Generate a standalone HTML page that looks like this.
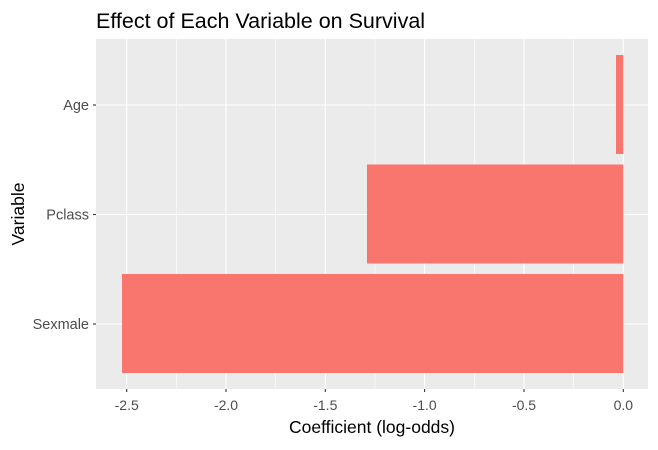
<!DOCTYPE html>
<html><head><style>body{margin:0;background:#fff}</style></head><body>
<svg width="658" height="445" xmlns="http://www.w3.org/2000/svg" font-family="Liberation Sans, sans-serif">
<rect width="658" height="445" fill="#fff"/>
<rect x="96" y="39" width="552" height="350" fill="#ebebeb"/>
<g stroke="#fff" stroke-width="0.55">
<line x1="176.35" y1="39" x2="176.35" y2="389"/><line x1="275.65" y1="39" x2="275.65" y2="389"/><line x1="374.95" y1="39" x2="374.95" y2="389"/><line x1="474.3" y1="39" x2="474.3" y2="389"/><line x1="573.65" y1="39" x2="573.65" y2="389"/>
</g>
<g stroke="#fff" stroke-width="1.1">
<line x1="126.7" y1="39" x2="126.7" y2="389"/><line x1="226" y1="39" x2="226" y2="389"/><line x1="325.3" y1="39" x2="325.3" y2="389"/><line x1="424.6" y1="39" x2="424.6" y2="389"/><line x1="524" y1="39" x2="524" y2="389"/><line x1="623.3" y1="39" x2="623.3" y2="389"/>
<line x1="96" y1="105" x2="648" y2="105"/><line x1="96" y1="214.5" x2="648" y2="214.5"/><line x1="96" y1="324" x2="648" y2="324"/>
</g>
<g fill="#f8766d">
<rect x="616" y="55" width="7.3" height="99"/>
<rect x="367" y="164.5" width="256.3" height="99"/>
<rect x="122" y="274" width="501.3" height="99"/>
</g>
<g stroke="#333" stroke-width="1.1">
<line x1="93" y1="105" x2="96" y2="105"/><line x1="93" y1="214.5" x2="96" y2="214.5"/><line x1="93" y1="324" x2="96" y2="324"/>
<line x1="126.7" y1="389" x2="126.7" y2="392"/><line x1="226" y1="389" x2="226" y2="392"/><line x1="325.3" y1="389" x2="325.3" y2="392"/><line x1="424.6" y1="389" x2="424.6" y2="392"/><line x1="524" y1="389" x2="524" y2="392"/><line x1="623.3" y1="389" x2="623.3" y2="392"/>
</g>
<g fill="#4d4d4d" font-size="14.5" text-anchor="end">
<text x="89" y="110">Age</text><text x="89" y="219.5">Pclass</text><text x="89" y="329">Sexmale</text>
</g>
<g fill="#4d4d4d" font-size="14" text-anchor="middle">
<text x="126.7" y="410">-2.5</text><text x="226" y="410">-2.0</text><text x="325.3" y="410">-1.5</text><text x="424.6" y="410">-1.0</text><text x="524" y="410">-0.5</text><text x="623.3" y="410">0.0</text>
</g>
<text x="372" y="433" font-size="17.5" text-anchor="middle" fill="#000">Coefficient (log-odds)</text>
<text transform="translate(24,214) rotate(-90)" font-size="17.5" text-anchor="middle" fill="#000">Variable</text>
<text x="96" y="28" font-size="21.5" fill="#000">Effect of Each Variable on Survival</text>
</svg>
</body></html>
